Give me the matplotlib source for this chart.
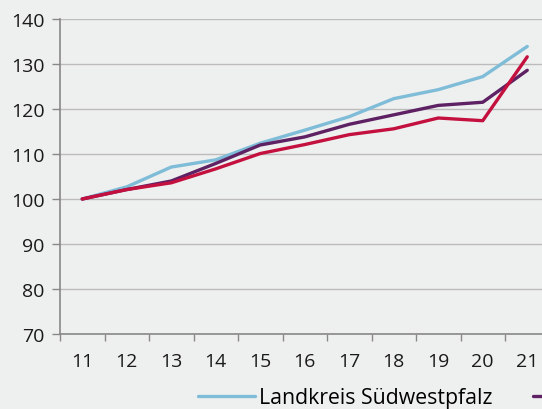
import matplotlib
matplotlib.use("Agg")
import matplotlib.pyplot as plt
from matplotlib.ticker import FixedLocator

years = [11, 12, 13, 14, 15, 16, 17, 18, 19, 20, 21]
labels = ["Landkreis Südwestpfalz", "Rheinland-Pfalz", "Deutschland"]
blue = [100, 102.7, 107.1, 108.7, 112.4, 115.3, 118.3, 122.3, 124.3, 127.2, 133.9]
purple = [100, 102.1, 104.0, 107.9, 112.0, 113.8, 116.6, 118.7, 120.8, 121.5, 128.6]
red = [100, 102.1, 103.6, 106.7, 110.1, 112.1, 114.3, 115.6, 118.0, 117.4, 131.6]
yticks = [70, 80, 90, 100, 110, 120, 130, 140]

plt.rcParams['font.family'] = ['Open Sans', 'DejaVu Sans']
fs = 14
lfs = 15.3
bg = '#eef0ef'
fig = plt.figure(figsize=(5.42, 4.10), dpi=100, facecolor=bg)
ax = fig.add_axes([60/542, 1-335/410, 11*44.5/542, 315/410], facecolor=bg)

cols = ['#7fbcd8', '#5e2163', '#c4103f']
lines = []
for vals, c, lab in zip([blue, purple, red], cols, labels):
    ln, = ax.plot(years, vals, color=c, lw=2.4, label=lab, solid_capstyle='round', solid_joinstyle='round')
    lines.append(ln)

ax.set_xlim(10.5, 21.5)
ax.set_ylim(70, 140)
ax.set_yticks(yticks)
ax.set_xticks(years)
ax.set_xticklabels([str(y) for y in years])
ax.xaxis.set_minor_locator(FixedLocator([x + 0.5 for x in range(10, 22)]))
ax.tick_params(axis='x', which='major', length=0, pad=13, labelsize=fs, labelcolor='#1a1a1a')
ax.tick_params(axis='x', which='minor', length=5, color='#888888', width=1)
ax.tick_params(axis='y', length=6, color='#888888', width=1, labelsize=fs, labelcolor='#1a1a1a', pad=5)
ax.grid(axis='y', color='#bbbbbb', lw=1)
ax.set_axisbelow(True)
for s in ['top', 'right']:
    ax.spines[s].set_visible(False)
for s in ['left', 'bottom']:
    ax.spines[s].set_color('#888888')
    ax.spines[s].set_linewidth(1.2)

fig.legend(handles=lines[:2], labels=labels[:2], loc='center left',
           bbox_to_anchor=(198/542, 1-399/410), ncol=2, frameon=False,
           fontsize=lfs, handlelength=2.68, handletextpad=0.2, columnspacing=1.9,
           borderaxespad=0, borderpad=0)

fig.savefig('out.png', dpi=100, facecolor=bg)
